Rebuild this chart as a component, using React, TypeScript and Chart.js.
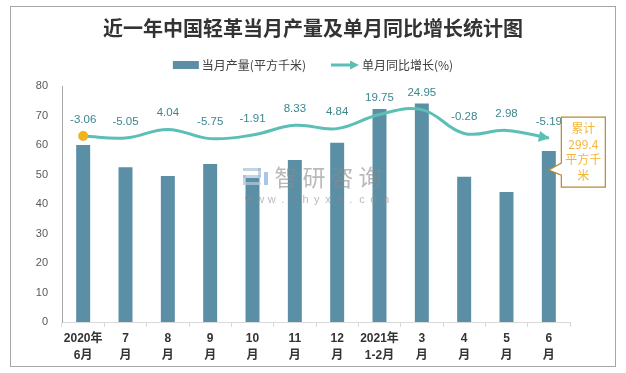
import { useEffect, useRef } from "react";
import { Chart, registerables } from "chart.js";

Chart.register(...registerables);

const TITLE = "近一年中国轻革当月产量及单月同比增长统计图";
const CATEGORIES: string[][] = [
  ["2020年", "6月"], ["7", "月"], ["8", "月"], ["9", "月"], ["10", "月"], ["11", "月"],
  ["12", "月"], ["2021年", "1-2月"], ["3", "月"], ["4", "月"], ["5", "月"], ["6", "月"],
];
const OUTPUT = [60.0, 52.5, 49.5, 53.6, 48.8, 54.9, 60.8, 72.2, 74.1, 49.2, 44.1, 58.0];
const GROWTH = [-3.06, -5.05, 4.04, -5.75, -1.91, 8.33, 4.84, 19.75, 24.95, -0.28, 2.98, -5.19];
const SERIES_NAMES = ["当月产量(平方千米)", "单月同比增长(%)"];
const CALLOUT_LINES = ["累计", "299.4", "平方千", "米"];
const WATERMARK = "智研咨询";
const WATERMARK_URL = "www.chyxx.com";

const BAR = "#5B8FA6";
const LINE = "#5BBFB5";
const GOLD = "#F2B21E";
const LABEL = "#3A878D";
const CJK = '"Noto Sans CJK SC"';
const LAT = '"Liberation Sans", "Noto Sans CJK SC"';

function drawArrowHead(ctx: CanvasRenderingContext2D, x: number, y: number, ang: number, len: number, half: number, color: string) {
  ctx.save();
  ctx.translate(x, y);
  ctx.rotate(ang);
  ctx.beginPath();
  ctx.moveTo(0, 0);
  ctx.lineTo(-len, -half);
  ctx.lineTo(-len, half);
  ctx.closePath();
  ctx.fillStyle = color;
  ctx.fill();
  ctx.restore();
}

const deco = {
  id: "deco",
  beforeDraw(chart: any) {
    const ctx = chart.ctx;
    ctx.save();
    ctx.fillStyle = "#ffffff";
    ctx.fillRect(0, 0, chart.width, chart.height);
    ctx.restore();
  },
  afterDatasetsDraw(chart: any) {
    const ctx: CanvasRenderingContext2D = chart.ctx;
    const ca = chart.chartArea;
    // watermark
    ctx.save();
    const wx = (ca.left + ca.right) / 2 - 73;
    const wy = ca.top + 82;
    ctx.globalAlpha = 0.6;
    ctx.fillStyle = "#9fb4d6";
    ctx.fillRect(wx, wy, 18, 3);
    ctx.fillRect(wx + 15, wy, 3, 9);
    ctx.fillRect(wx, wy + 7, 18, 3);
    ctx.fillRect(wx, wy + 7, 3, 10);
    ctx.fillStyle = "#c9d3e6";
    ctx.fillRect(wx, wy + 14, 18, 3);
    ctx.fillStyle = "#6fa0d8";
    ctx.fillRect(wx + 21, wy + 4, 4, 13);
    ctx.fillStyle = "#8a8a8a";
    ctx.font = `23px ${CJK}`;
    ctx.textBaseline = "middle";
    ctx.textAlign = "center";
    WATERMARK.split("").forEach((c, i) => ctx.fillText(c, wx + 43 + i * 28, wy + 9));
    ctx.font = `11px ${LAT}`;
    WATERMARK_URL.split("").forEach((c, i) => ctx.fillText(c, wx + 6 + i * 11.3, wy + 32));
    ctx.restore();

    // line datalabels + arrow
    const li = chart.data.datasets.findIndex((d: any) => d.type === "line");
    const meta = chart.getDatasetMeta(li);
    const pts = meta.data;
    ctx.save();
    ctx.font = `11.5px ${LAT}`;
    ctx.fillStyle = LABEL;
    ctx.textAlign = "center";
    ctx.textBaseline = "middle";
    pts.forEach((p: any, i: number) => {
      ctx.fillText(GROWTH[i].toFixed(2), p.x, p.y - 16.5);
    });
    ctx.restore();

    const last = pts[pts.length - 1];
    const prev = pts[pts.length - 2];
    const cx = last.cp1x ?? prev.x;
    const cy = last.cp1y ?? prev.y;
    const ang = Math.atan2(last.y - cy, last.x - cx);
    drawArrowHead(ctx, last.x + Math.cos(ang) * 1, last.y + Math.sin(ang) * 1, ang, 11, 5.5, LINE);

    // callout box
    const bx = last.x + 12.5;
    const by = last.y - 21;
    const bw = 44;
    const bh = 70;
    ctx.save();
    ctx.beginPath();
    ctx.moveTo(bx, by);
    ctx.lineTo(bx + bw, by);
    ctx.lineTo(bx + bw, by + bh);
    ctx.lineTo(bx, by + bh);
    ctx.lineTo(bx, by + 58);
    ctx.lineTo(last.x, by + 53);
    ctx.lineTo(bx, by + 46);
    ctx.closePath();
    ctx.fillStyle = "#ffffff";
    ctx.fill();
    ctx.strokeStyle = "#B8892E";
    ctx.lineWidth = 1.2;
    ctx.stroke();
    ctx.fillStyle = "#F4B63A";
    ctx.font = `12px ${CJK}`;
    ctx.textAlign = "center";
    ctx.textBaseline = "middle";
    const ys = [11, 27, 42, 58];
    CALLOUT_LINES.forEach((t, i) => ctx.fillText(t, bx + bw / 2, by + ys[i]));
    ctx.restore();
  },
  afterDraw(chart: any) {
    const ctx: CanvasRenderingContext2D = chart.ctx;
    const W = chart.width;
    ctx.save();
    // outer border
    ctx.strokeStyle = "#A6A6A6";
    ctx.lineWidth = 1;
    ctx.strokeRect(10.5, 6.5, W - 21, chart.height - 13);
    // title
    ctx.fillStyle = "#333333";
    ctx.font = `bold 20px ${CJK}`;
    ctx.textAlign = "center";
    ctx.textBaseline = "middle";
    ctx.fillText(TITLE, 313, 28);
    // legend
    ctx.font = `12px ${CJK}`;
    ctx.textAlign = "left";
    const t1 = ctx.measureText(SERIES_NAMES[0]).width;
    const t2 = ctx.measureText(SERIES_NAMES[1]).width;
    const total = 26 + 3 + t1 + 25 + 28 + 3 + t2;
    let x = 313 - total / 2;
    const y = 65;
    ctx.fillStyle = BAR;
    ctx.fillRect(x, y - 4, 26, 8);
    x += 29;
    ctx.fillStyle = "#404040";
    ctx.fillText(SERIES_NAMES[0], x, y);
    x += t1 + 25;
    ctx.strokeStyle = LINE;
    ctx.lineWidth = 3;
    ctx.beginPath();
    ctx.moveTo(x, y);
    ctx.lineTo(x + 20, y);
    ctx.stroke();
    drawArrowHead(ctx, x + 28, y, 0, 9, 4.5, LINE);
    x += 31;
    ctx.fillStyle = "#404040";
    ctx.fillText(SERIES_NAMES[1], x, y);
    ctx.restore();
  },
};

export default function App() {
  const ref = useRef<HTMLCanvasElement>(null);
  useEffect(() => {
    const canvas = ref.current!;
    const chart = new Chart(canvas, {
      type: "bar",
      data: {
        labels: CATEGORIES as any,
        datasets: [
          {
            type: "line",
            label: SERIES_NAMES[1],
            data: GROWTH,
            yAxisID: "y2",
            borderColor: LINE,
            borderWidth: 3,
            tension: 0.4,
            fill: false,
            pointRadius: GROWTH.map((_, i) => (i === 0 ? 5 : 0)),
            pointHoverRadius: 0,
            pointBackgroundColor: GOLD,
            pointBorderColor: GOLD,
            pointBorderWidth: 0,
            order: 1,
          } as any,
          {
            type: "bar",
            label: SERIES_NAMES[0],
            data: OUTPUT,
            yAxisID: "y",
            backgroundColor: BAR,
            categoryPercentage: 1,
            barPercentage: 0.33,
            order: 2,
          } as any,
        ],
      },
      options: {
        responsive: false,
        devicePixelRatio: 1,
        animation: false,
        layout: { padding: { left: 10, right: 56, top: 86, bottom: 6 } },
        plugins: {
          legend: { display: false },
          title: { display: false },
          tooltip: { enabled: false },
        },
        scales: {
          x: {
            offset: true,
            grid: { display: true, drawOnChartArea: false, drawTicks: true, tickLength: 5, color: "#D9D9D9", offset: true },
            border: { display: true, color: "#D9D9D9", width: 1 },
            ticks: {
              autoSkip: false,
              maxRotation: 0,
              minRotation: 0,
              padding: 3,
              color: "#333333",
              font: { family: LAT, size: 12, weight: "bold", lineHeight: 1.4 },
            },
            afterFit(scale: any) { scale.height = 45; },
          },
          y: {
            position: "left",
            min: 0,
            max: 80,
            ticks: { stepSize: 10, padding: 14, color: "#595959", font: { family: LAT, size: 11 } },
            grid: { display: false, drawTicks: false },
            border: { display: true, color: "#A6A6A6", width: 1 },
            afterFit(scale: any) { scale.width = 52; },
          },
          y2: {
            display: false,
            min: -200,
            max: 50,
          },
        },
      } as any,
      plugins: [deco],
    });
    return () => chart.destroy();
  }, []);
  return (
    <div style={{ position: "fixed", left: 0, top: 0, width: 626, height: 373, background: "#fff" }}>
      <canvas ref={ref} width={626} height={373} style={{ display: "block", width: 626, height: 373 }} />
    </div>
  );
}
